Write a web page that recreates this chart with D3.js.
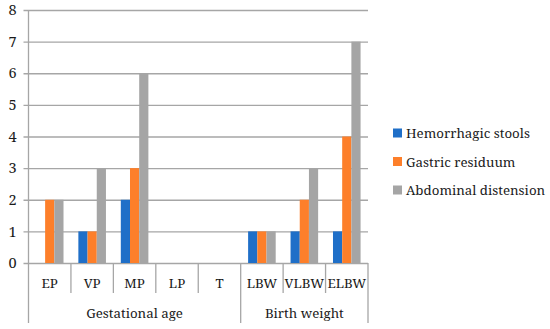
<!DOCTYPE html>
<html>
<head>
<meta charset="utf-8">
<script src="https://cdn.jsdelivr.net/npm/d3@7"></script>
<style>
  body { margin: 0; background: #fff; }
</style>
</head>
<body>
<svg id="chart" width="550" height="329"></svg>
<script>
// categories and groups
var categories = ["EP", "VP", "MP", "LP", "T", "LBW", "VLBW", "ELBW"];
var groups = [
    {name: "Gestational age", from: 0, to: 5},
    {name: "Birth weight", from: 5, to: 8}
];
var seriesNames = ["Hemorrhagic stools", "Gastric residuum", "Abdominal distension"];
var hemorrhagic = [0, 1, 2, 0, 0, 1, 1, 1];
var gastric     = [2, 1, 3, 0, 0, 1, 2, 4];
var abdominal   = [2, 3, 6, 0, 0, 1, 3, 7];
var yTicks = [0, 1, 2, 3, 4, 5, 6, 7, 8];
var colors = ["#1f6fc8", "#fd7f2a", "#a5a5a5"];

var series = [hemorrhagic, gastric, abdominal];

var plotLeft = 28.5, plotRight = 368, plotTop = 10, plotBottom = 263;
var catRow = 293, groupRow = 323;
var fontSize = 13.3;
var fontFamily = "Noto Serif, Liberation Serif, serif";
var textColor = "#1a1a1a";

var svg = d3.select("#chart");

var x = d3.scaleBand()
    .domain(d3.range(categories.length))
    .range([plotLeft, plotRight])
    .paddingInner(0.35)
    .paddingOuter(0.175);

// the plain band (no padding) for separators
var xCell = d3.scaleBand()
    .domain(d3.range(categories.length))
    .range([plotLeft, plotRight]);

var xInner = d3.scaleBand()
    .domain(d3.range(series.length))
    .range([0, x.bandwidth()]);

var y = d3.scaleLinear()
    .domain([0, 8])
    .range([plotBottom, plotTop]);

// gridlines + y labels
var yAxis = d3.axisLeft(y)
    .tickValues(yTicks)
    .tickSize(5)
    .tickPadding(10)
    .tickFormat(d3.format("d"));

svg.append("g")
    .attr("transform", "translate(" + plotLeft + ",0)")
    .call(yAxis)
    .attr("font-family", fontFamily)
    .attr("font-size", 14.5)
    .call(g => g.select(".domain").remove())
    .call(g => g.selectAll(".tick line")
        .attr("x1", -5)
        .attr("x2", plotRight - plotLeft)
        .attr("stroke", "#a6a6a6")
        .attr("stroke-width", 1.3))
    .call(g => g.selectAll(".tick text")
        .attr("x", -12)
        .attr("fill", textColor));

// bars
series.forEach(function(vals, s) {
    svg.append("g")
        .selectAll("rect")
        .data(vals)
        .enter().append("rect")
        .attr("x", (d, i) => x(i) + xInner(s))
        .attr("y", d => y(d))
        .attr("width", xInner.bandwidth())
        .attr("height", d => y(0) - y(d))
        .attr("fill", colors[s]);
});

// left axis line
svg.append("line")
    .attr("x1", plotLeft).attr("x2", plotLeft)
    .attr("y1", plotTop).attr("y2", groupRow)
    .attr("stroke", "#a6a6a6").attr("stroke-width", 1.3);

// category separators
var groupEdges = groups.map(g => g.to);
d3.range(1, categories.length + 1).forEach(function(i) {
    var xx = (i < categories.length) ? xCell(i) : plotRight;
    var isGroup = groupEdges.indexOf(i) >= 0;
    svg.append("line")
        .attr("x1", xx).attr("x2", xx)
        .attr("y1", plotBottom).attr("y2", isGroup ? groupRow : catRow)
        .attr("stroke", "#a6a6a6").attr("stroke-width", 1.3);
});

// category labels
svg.append("g")
    .selectAll("text")
    .data(categories)
    .enter().append("text")
    .attr("x", (d, i) => xCell(i) + xCell.bandwidth() / 2)
    .attr("y", 288)
    .attr("text-anchor", "middle")
    .attr("font-family", fontFamily)
    .attr("font-size", fontSize)
    .attr("fill", textColor)
    .text(d => d);

// group labels
svg.append("g")
    .selectAll("text")
    .data(groups)
    .enter().append("text")
    .attr("x", d => (xCell(d.from) + (d.to < categories.length ? xCell(d.to) : plotRight)) / 2)
    .attr("y", 318)
    .attr("text-anchor", "middle")
    .attr("font-family", fontFamily)
    .attr("font-size", fontSize)
    .attr("fill", textColor)
    .text(d => d.name);

// legend
var legend = svg.append("g")
    .attr("transform", "translate(393,133)");

var item = legend.selectAll("g")
    .data(seriesNames)
    .enter().append("g")
    .attr("transform", (d, i) => "translate(0," + (i * 28.5) + ")");

item.append("rect")
    .attr("x", 0).attr("y", -4.5)
    .attr("width", 9).attr("height", 9)
    .attr("fill", (d, i) => colors[i]);

item.append("text")
    .attr("x", 13)
    .attr("y", 5)
    .attr("font-family", fontFamily)
    .attr("font-size", fontSize)
    .attr("fill", textColor)
    .text(d => d);
</script>
</body>
</html>
